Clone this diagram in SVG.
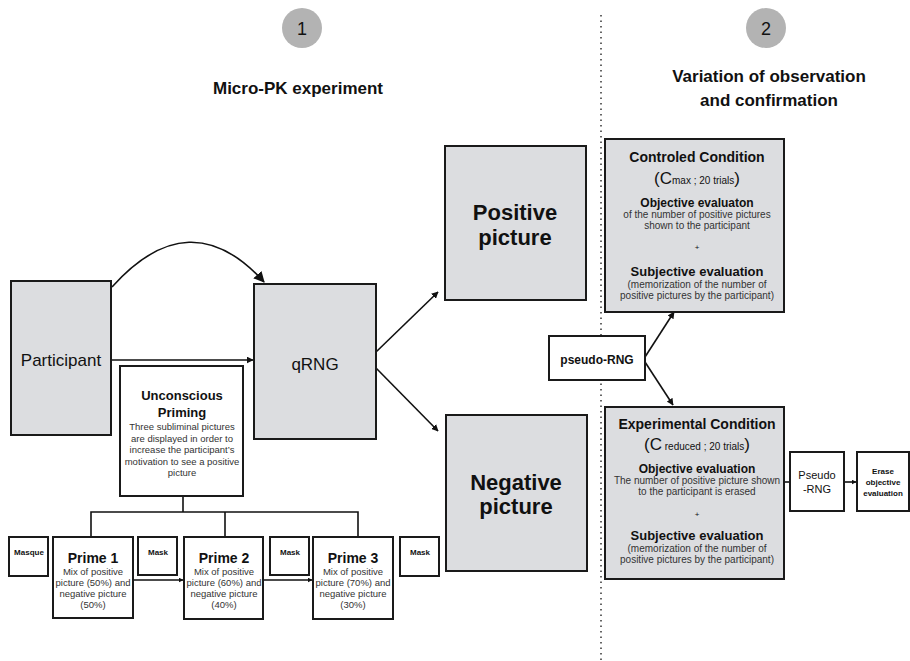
<svg xmlns="http://www.w3.org/2000/svg" width="910" height="661" viewBox="0 0 910 661">
<defs>
<marker id="ah" viewBox="0 0 10 10" refX="9" refY="5" markerWidth="7" markerHeight="7" orient="auto" markerUnits="userSpaceOnUse"><path d="M0,0 L10,5 L0,10 z" fill="#111"/></marker>
<marker id="ahL" viewBox="0 0 10 10" refX="9" refY="5" markerWidth="11" markerHeight="11" orient="auto" markerUnits="userSpaceOnUse"><path d="M0,0 L10,5 L0,10 z" fill="#111"/></marker>
<marker id="ahS" viewBox="0 0 10 10" refX="9" refY="5" markerWidth="5" markerHeight="5" orient="auto" markerUnits="userSpaceOnUse"><path d="M0,0 L10,5 L0,10 z" fill="#111"/></marker>
</defs>
<style>
text{font-family:"Liberation Sans",Arial,sans-serif;fill:#111;text-anchor:middle}
.g{fill:#dcdde0;stroke:#1a1a1a;stroke-width:2}
.w{fill:#fff;stroke:#1a1a1a;stroke-width:2}
.b{font-weight:bold}
.c{stroke:#111;stroke-width:1.6;fill:none}
.s{font-size:9.5px;fill:#333}
.t{font-size:10px;fill:#333}
</style>
<rect width="910" height="661" fill="#fff"/>
<line x1="601" y1="15" x2="601" y2="661" stroke="#333" stroke-width="1.5" stroke-dasharray="1.5,4"/>
<g id="step1"><circle cx="302" cy="28" r="20" fill="#b3b3b3"/><text x="302" y="35" font-size="18" fill="#333">1</text></g>
<g id="step2"><circle cx="766" cy="28" r="20" fill="#b3b3b3"/><text x="766" y="35" font-size="18" fill="#333">2</text></g>
<text x="298" y="94" font-size="17" class="b">Micro-PK experiment</text>
<text x="769" y="82" font-size="17" class="b">Variation of observation</text>
<text x="769" y="106" font-size="17" class="b">and confirmation</text>

<g id="connectors">
<path class="c" d="M112,287 Q190,200 264,282" stroke-width="2.5" marker-end="url(#ahL)"/>
<line class="c" x1="112" y1="360" x2="253" y2="360" marker-end="url(#ah)"/>
<line class="c" x1="376" y1="352" x2="438" y2="292" marker-end="url(#ah)"/>
<line class="c" x1="376" y1="368" x2="438" y2="431" marker-end="url(#ah)"/>
<path class="c" d="M183,496 V512 M91,537 V512 H358 V537 M225,512 V537"/>
<line class="c" x1="133" y1="580" x2="183" y2="580" marker-end="url(#ahS)"/>
<line class="c" x1="263" y1="580" x2="312" y2="580" marker-end="url(#ahS)"/>
<line class="c" x1="645" y1="357" x2="674" y2="312" marker-end="url(#ah)"/>
<line class="c" x1="645" y1="362" x2="673" y2="405" marker-end="url(#ah)"/>
<line class="c" x1="784" y1="482" x2="790" y2="482"/>
<line class="c" x1="844" y1="482" x2="856" y2="482" marker-end="url(#ahS)"/>
</g>

<g id="participant"><rect class="g" x="11" y="281" width="100" height="154"/><text x="61" y="366" font-size="17" fill="#333">Participant</text></g>
<g id="qrng"><rect class="g" x="254" y="284" width="122" height="155"/><text x="315" y="370" font-size="17" fill="#333">qRNG</text></g>

<g id="priming"><rect class="w" x="120" y="366" width="123" height="130"/>
<text x="182" y="400" font-size="13" class="b">Unconscious</text>
<text x="182" y="417" font-size="13" class="b">Priming</text>
<text x="182" y="430" class="s">Three subliminal pictures</text>
<text x="182" y="442" class="s">are displayed in order to</text>
<text x="182" y="453" class="s">increase the participant’s</text>
<text x="182" y="465" class="s">motivation to see a positive</text>
<text x="182" y="476" class="s">picture</text></g>

<g id="masque"><rect class="w" x="9" y="537" width="39" height="39"/><text x="29" y="555" font-size="8" class="b">Masque</text></g>
<g id="prime1"><rect class="w" x="53" y="537" width="80" height="81"/>
<text x="93" y="563" font-size="14" class="b">Prime 1</text>
<text x="93" y="575" class="s">Mix of  positive</text><text x="93" y="586" class="s">picture (50%) and</text><text x="93" y="597" class="s">negative picture</text><text x="93" y="608" class="s">(50%)</text></g>
<g id="mask1"><rect class="w" x="138" y="537" width="39" height="38"/><text x="158" y="555" font-size="8" class="b">Mask</text></g>
<g id="prime2"><rect class="w" x="184" y="537" width="79" height="82"/>
<text x="224" y="563" font-size="14" class="b">Prime 2</text>
<text x="224" y="575" class="s">Mix of  positive</text><text x="224" y="586" class="s">picture (60%) and</text><text x="224" y="597" class="s">negative picture</text><text x="224" y="608" class="s">(40%)</text></g>
<g id="mask2"><rect class="w" x="270" y="537" width="39" height="38"/><text x="290" y="555" font-size="8" class="b">Mask</text></g>
<g id="prime3"><rect class="w" x="313" y="537" width="80" height="82"/>
<text x="353" y="563" font-size="14" class="b">Prime 3</text>
<text x="353" y="575" class="s">Mix of  positive</text><text x="353" y="586" class="s">picture (70%) and</text><text x="353" y="597" class="s">negative picture</text><text x="353" y="608" class="s">(30%)</text></g>
<g id="mask3"><rect class="w" x="400" y="537" width="39" height="39"/><text x="420" y="555" font-size="8" class="b">Mask</text></g>

<g id="positive"><rect class="g" x="445" y="146" width="141" height="154"/><text x="515" y="220" font-size="22" class="b">Positive</text><text x="515" y="245" font-size="22" class="b">picture</text></g>
<g id="negative"><rect class="g" x="446" y="415" width="141" height="156"/><text x="516" y="490" font-size="22" class="b">Negative</text><text x="516" y="514" font-size="22" class="b">picture</text></g>

<g id="controlled"><rect class="g" x="605" y="139" width="179" height="173"/>
<text x="697" y="162" font-size="14" class="b">Controled Condition</text>
<text x="697" y="184"><tspan font-size="17">(C</tspan><tspan font-size="10">max ; 20 trials</tspan><tspan font-size="17">)</tspan></text>
<text x="697" y="207" font-size="12" class="b">Objective evaluaton</text>
<text x="697" y="218" class="t">of the number of positive pictures</text>
<text x="697" y="229" class="t">shown to the participant</text>
<text x="697" y="250" font-size="8" fill="#333">+</text>
<text x="697" y="276" font-size="13" class="b">Subjective evaluation</text>
<text x="697" y="288" class="t">(memorization of the number of</text>
<text x="697" y="299" class="t">positive pictures by the participant)</text></g>

<g id="pseudorng"><rect class="w" x="549" y="336" width="96" height="44"/><text x="597" y="364" font-size="12" class="b">pseudo-RNG</text></g>

<g id="experimental"><rect class="g" x="605" y="407" width="179" height="172"/>
<text x="697" y="429" font-size="14" class="b">Experimental Condition</text>
<text x="697" y="450"><tspan font-size="17">(C</tspan><tspan font-size="10"> reduced ; 20 trials</tspan><tspan font-size="17">)</tspan></text>
<text x="697" y="473" font-size="12" class="b">Objective evaluation</text>
<text x="697" y="484" class="t">The number of positive picture shown</text>
<text x="697" y="495" class="t">to the participant is erased</text>
<text x="697" y="517" font-size="8" fill="#333">+</text>
<text x="697" y="540" font-size="13" class="b">Subjective evaluation</text>
<text x="697" y="552" class="t">(memorization of the number of</text>
<text x="697" y="563" class="t">positive pictures by the participant)</text></g>

<g id="pseudorng2"><rect class="w" x="790" y="452" width="54" height="59"/><text x="817" y="479" font-size="11">Pseudo</text><text x="817" y="493" font-size="11">-RNG</text></g>
<g id="erase"><rect class="w" x="857" y="452" width="52" height="59"/><text x="883" y="474" font-size="8" class="b">Erase</text><text x="883" y="485" font-size="8" class="b">objective</text><text x="883" y="496" font-size="8" class="b">evaluation</text></g>
</svg>
